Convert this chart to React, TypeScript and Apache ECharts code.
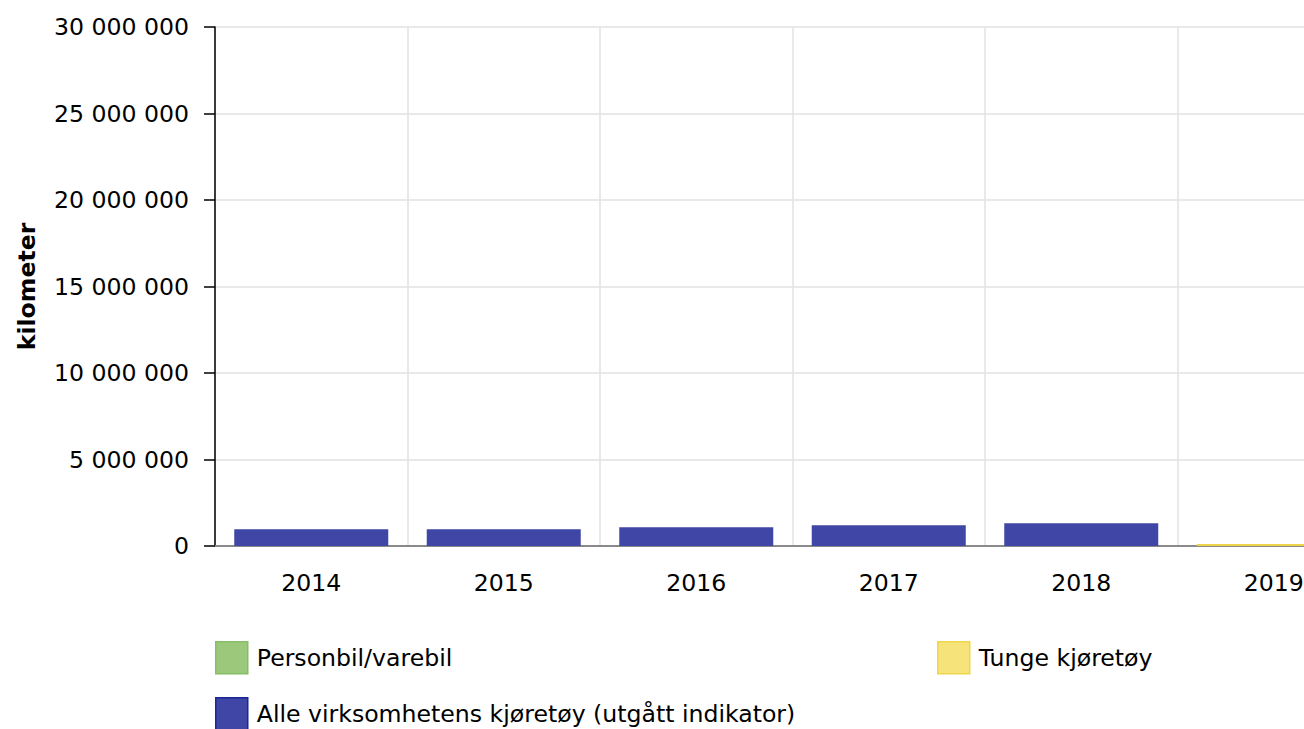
import React, { useEffect, useRef } from "react";
import * as echarts from "echarts";

const categories = ["2014", "2015", "2016", "2017", "2018", "2019"];
const personbil: (number | null)[] = [null, null, null, null, null, null];
const tunge: (number | null)[] = [null, null, null, null, null, 110000];
const alle: (number | null)[] = [970000, 975000, 1080000, 1200000, 1310000, null];
const yTicks = { min: 0, max: 30000000, interval: 5000000 };

const FONT = "DejaVu Sans, Verdana, sans-serif";
const FS = 23.6;

const fmt = (v: number) => String(Math.round(v)).replace(/\B(?=(\d{3})+(?!\d))/g, " ");

export default function App() {
  const ref = useRef<HTMLDivElement>(null);
  useEffect(() => {
    if (!ref.current) return;
    const chart = echarts.init(ref.current, null, { renderer: "svg" });
    const legendText = { color: "#000", fontSize: FS, fontFamily: FONT, padding: [0, 0, 0, 4] };
    const legendBase = { itemWidth: 32, itemHeight: 32, icon: "rect", padding: 0, textStyle: legendText };
    chart.setOption({
      animation: false,
      textStyle: { fontFamily: FONT },
      grid: { left: 215, top: 27, bottom: 183, right: 0, containLabel: false },
      legend: [
        {
          ...legendBase, left: 215, top: 641,
          data: [{ name: "Personbil/varebil", itemStyle: { color: "#9cc87c", borderColor: "#86bd66", borderWidth: 1.5 } }],
        },
        {
          ...legendBase, left: 937, top: 641,
          data: [{ name: "Tunge kjøretøy", itemStyle: { color: "#f6e47a", borderColor: "#efd54a", borderWidth: 1.5 } }],
        },
        {
          ...legendBase, left: 215, top: 697,
          data: [{ name: "Alle virksomhetens kjøretøy (utgått indikator)", itemStyle: { color: "#3f46a5", borderColor: "#1c2796", borderWidth: 1.5 } }],
        },
      ],
      xAxis: {
        type: "category",
        data: categories,
        axisLine: { lineStyle: { color: "#8a8a8a", width: 2 } },
        axisTick: { alignWithLabel: true, length: 10, lineStyle: { color: "#8a8a8a", width: 2 } },
        axisLabel: { color: "#000", fontSize: FS, fontFamily: FONT, margin: 25 },
        splitLine: { show: true, lineStyle: { color: "#e2e2e2", width: 1.5 } },
      },
      yAxis: {
        type: "value",
        min: yTicks.min,
        max: yTicks.max,
        interval: yTicks.interval,
        name: "kilometer",
        nameLocation: "middle",
        nameGap: 176,
        nameTextStyle: { color: "#000", fontSize: FS, fontWeight: "bold", fontFamily: FONT },
        axisLine: { show: true, lineStyle: { color: "#000", width: 1.5 } },
        axisTick: { show: true, length: 11, lineStyle: { color: "#000", width: 1.5 } },
        axisLabel: { color: "#000", fontSize: FS, fontFamily: FONT, margin: 26, formatter: fmt },
        splitLine: { show: true, lineStyle: { color: "#e2e2e2", width: 1.5 } },
      },
      series: [
        {
          name: "Personbil/varebil", type: "bar", stack: "s", barWidth: "80%",
          itemStyle: { color: "#9cc87c" }, data: personbil,
        },
        {
          name: "Tunge kjøretøy", type: "bar", stack: "s", barWidth: "80%",
          itemStyle: { color: "#ecd34a" }, data: tunge,
        },
        {
          name: "Alle virksomhetens kjøretøy (utgått indikator)", type: "bar", stack: "s", barWidth: "80%",
          itemStyle: { color: "#3f46a5" }, data: alle,
        },
      ],
    });
    return () => chart.dispose();
  }, []);
  return (
    <div style={{ position: "fixed", left: 0, top: 0, width: 1304, height: 729, overflow: "hidden", background: "#fff" }}>
      <div ref={ref} style={{ width: 1370, height: 729 }} />
    </div>
  );
}
